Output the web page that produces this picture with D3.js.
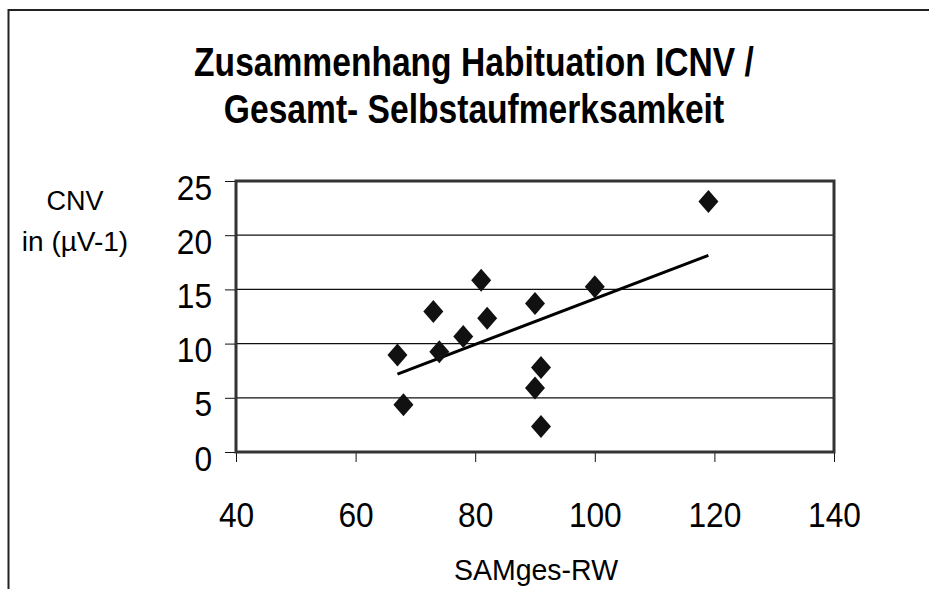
<!DOCTYPE html>
<html>
<head>
<meta charset="utf-8">
<script src="https://cdn.jsdelivr.net/npm/d3@7"></script>
<style>
  body { margin: 0; background: #fff; }
  text { font-family: "Liberation Sans", Arial, sans-serif; fill: #000; }
</style>
</head>
<body>
<svg width="929" height="589"></svg>
<script>
// SAMges-RW (x) vs. CNV habituation (y)
var samges = [67, 68, 73, 74, 78, 81, 82, 90, 91, 90, 91, 100, 119];
var cnv = [8.95, 4.35, 12.95, 9.25, 10.65, 15.85, 12.35, 13.7, 7.8, 5.9, 2.35, 15.25, 23.1];

var xTicks = [40, 60, 80, 100, 120, 140];
var yTicks = [0, 5, 10, 15, 20, 25];
var titleLines = ["Zusammenhang Habituation ICNV /", "Gesamt- Selbstaufmerksamkeit"];

var svg = d3.select("svg");

var x = d3.scaleLinear().domain([40, 140]).range([236, 834]);
var y = d3.scaleLinear().domain([0, 25]).range([452, 181]);

// squeeze text horizontally like the original rendering
function squeeze(sel, sx) {
  sel.each(function () {
    var t = d3.select(this);
    var tx = +t.attr("x") || 0;
    t.attr("x", tx / sx).attr("transform", "scale(" + sx + ",1)");
  });
}

// outer frame (only top and left visible)
svg.append("path")
  .attr("d", "M8.5,589V10H929")
  .attr("fill", "none")
  .attr("stroke", "#222")
  .attr("stroke-width", 2);

// title
var title = svg.append("g").attr("transform", "translate(474,0)");
title.selectAll("text")
  .data(titleLines)
  .enter()
  .append("text")
  .attr("x", 0)
  .attr("y", function (d, i) { return 76 + i * 47; })
  .attr("text-anchor", "middle")
  .style("font-weight", "bold")
  .style("font-size", "40px")
  .text(function (d) { return d; })
  .call(squeeze, 0.84);

// gridlines
svg.append("g")
  .selectAll("line")
  .data(yTicks.filter(function (d) { return d > 0 && d < 25; }))
  .enter()
  .append("line")
  .attr("x1", x(40))
  .attr("x2", x(140))
  .attr("y1", function (d) { return y(d); })
  .attr("y2", function (d) { return y(d); })
  .attr("stroke", "#111")
  .attr("stroke-width", 1.2);

// axes
var yAxis = svg.append("g")
  .attr("transform", "translate(" + x(40) + ",0)")
  .call(d3.axisLeft(y).tickValues(yTicks).tickSize(11).tickPadding(13).tickFormat(d3.format("d")));
yAxis.select(".domain").remove();
yAxis.selectAll("line").attr("stroke", "#111");
yAxis.selectAll("text")
  .attr("fill", "#000")
  .attr("dy", "0.5em")
  .style("font-size", "36px")
  .style("font-family", "Liberation Sans, Arial, sans-serif")
  .call(squeeze, 0.88);

var xAxis = svg.append("g")
  .attr("transform", "translate(0," + y(0) + ")")
  .call(d3.axisBottom(x).tickValues(xTicks).tickSize(10).tickPadding(39).tickFormat(d3.format("d")));
xAxis.select(".domain").remove();
xAxis.selectAll("line").attr("stroke", "#111");
xAxis.selectAll("text")
  .attr("fill", "#000")
  .style("font-size", "36px")
  .style("font-family", "Liberation Sans, Arial, sans-serif")
  .call(squeeze, 0.88);

// plot frame
svg.append("rect")
  .attr("x", x(40))
  .attr("y", y(25))
  .attr("width", x(140) - x(40))
  .attr("height", y(0) - y(25))
  .attr("fill", "none")
  .attr("stroke", "#333")
  .attr("stroke-width", 3);

// linear trend (least squares)
var mx = d3.mean(samges), my = d3.mean(cnv);
var sxy = d3.sum(samges, function (d, i) { return (d - mx) * (cnv[i] - my); });
var sxx = d3.sum(samges, function (d) { return (d - mx) * (d - mx); });
var slope = sxy / sxx, icpt = my - slope * mx;
var ext = d3.extent(samges);

svg.append("line")
  .attr("x1", x(ext[0]))
  .attr("y1", y(icpt + slope * ext[0]))
  .attr("x2", x(ext[1]))
  .attr("y2", y(icpt + slope * ext[1]))
  .attr("stroke", "#000")
  .attr("stroke-width", 3);

// diamond markers
var diamond = "M0,-11.5L10,0L0,11.5L-10,0Z";
svg.append("g")
  .selectAll("path")
  .data(samges)
  .enter()
  .append("path")
  .attr("d", diamond)
  .attr("fill", "#111")
  .attr("transform", function (d, i) {
    return "translate(" + x(d) + "," + y(cnv[i]) + ")";
  });

// axis titles
var yLab = svg.append("g").attr("transform", "translate(75,0)");
yLab.append("text")
  .attr("x", 0)
  .attr("y", 210)
  .attr("text-anchor", "middle")
  .style("font-size", "27px")
  .text("CNV");
yLab.append("text")
  .attr("x", 0)
  .attr("y", 251)
  .attr("text-anchor", "middle")
  .style("font-size", "28px")
  .text("in (µV-1)");

var xLab = svg.append("g").attr("transform", "translate(536,0)");
xLab.append("text")
  .attr("x", 0)
  .attr("y", 580)
  .attr("text-anchor", "middle")
  .style("font-size", "30px")
  .text("SAMges-RW")
  .call(squeeze, 0.95);
</script>
</body>
</html>
